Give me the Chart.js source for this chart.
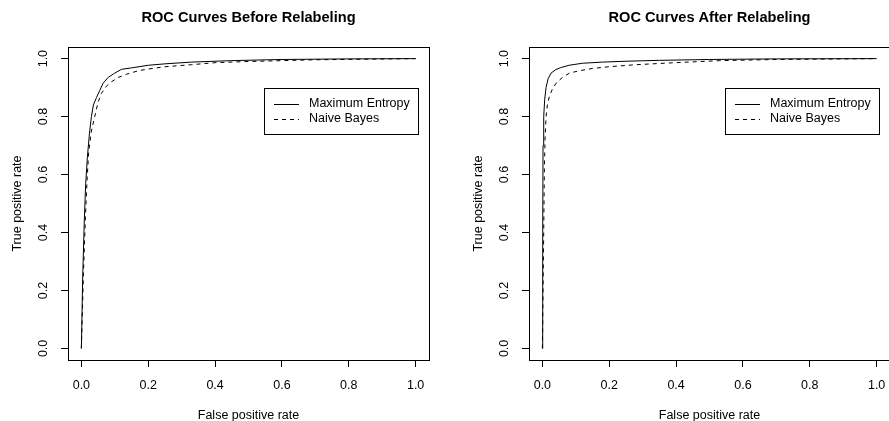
<!DOCTYPE html>
<html lang="en">
<head>
  <meta charset="UTF-8" />
  <title>ROC Curves</title>
  <style>
    body {
      margin: 0;
      width: 889px;
      height: 421px;
      overflow: hidden;
      background: #fff;
      position: relative;
    }
    .panel {
      position: absolute;
      top: 0;
      width: 444px;
      height: 421px;
    }
  </style>
</head>
<body>
  <div class="panel" style="left:0"><canvas id="before" width="444" height="421"></canvas></div>
  <div class="panel" style="left:461px"><canvas id="after" width="444" height="421"></canvas></div>

  <script src="https://cdn.jsdelivr.net/npm/chart.js"></script>
  <script>
    // tick positions on both axes
    const tickValues = [0, 0.2, 0.4, 0.6, 0.8, 1.0];
    const seriesNames = ['Maximum Entropy', 'Naive Bayes'];

    // before relabeling
    const beforeMeFpr = [0, 0.004, 0.009, 0.013, 0.018, 0.024, 0.030, 0.036, 0.045, 0.055, 0.065, 0.080, 0.10, 0.12, 0.15, 0.20, 0.25, 0.33, 0.45, 0.60, 0.80, 1.0];
    const beforeMeTpr = [0, 0.25, 0.45, 0.57, 0.66, 0.74, 0.80, 0.84, 0.865, 0.89, 0.915, 0.935, 0.95, 0.963, 0.968, 0.977, 0.982, 0.988, 0.993, 0.997, 0.999, 1.0];
    const beforeNbFpr = [0, 0.006, 0.012, 0.017, 0.022, 0.03, 0.04, 0.05, 0.06, 0.075, 0.09, 0.11, 0.135, 0.17, 0.20, 0.25, 0.33, 0.40, 0.50, 0.70, 1.0];
    const beforeNbTpr = [0, 0.25, 0.45, 0.58, 0.68, 0.75, 0.80, 0.85, 0.88, 0.905, 0.92, 0.935, 0.946, 0.958, 0.964, 0.972, 0.979, 0.986, 0.99, 0.996, 1.0];

    // after relabeling
    const afterMeFpr = [0, 0.001, 0.002, 0.004, 0.007, 0.011, 0.017, 0.026, 0.04, 0.055, 0.08, 0.12, 0.18, 0.25, 0.35, 0.5, 0.7, 1.0];
    const afterMeTpr = [0, 0.40, 0.70, 0.80, 0.86, 0.90, 0.93, 0.95, 0.962, 0.969, 0.977, 0.984, 0.988, 0.991, 0.994, 0.997, 0.999, 1.0];
    const afterNbFpr = [0, 0.004, 0.006, 0.008, 0.011, 0.015, 0.021, 0.03, 0.041, 0.06, 0.081, 0.11, 0.15, 0.2, 0.28, 0.38, 0.53, 0.7, 1.0];
    const afterNbTpr = [0, 0.40, 0.62, 0.72, 0.80, 0.84, 0.87, 0.895, 0.915, 0.935, 0.95, 0.958, 0.966, 0.972, 0.979, 0.985, 0.993, 0.997, 1.0];

    const FONT = '"Liberation Sans", Arial, sans-serif';
    const SIZE = 12.5;
    const DASH = [4, 4];

    function points(xs, ys) {
      return xs.map((x, i) => ({ x: x, y: ys[i] }));
    }

    // box around plot, rotated y tick labels and the boxed legend (R style)
    const rFrame = {
      id: 'rFrame',
      afterDraw(chart) {
        const { ctx, chartArea: a } = chart;
        const ys = chart.scales.y;
        ctx.save();
        ctx.strokeStyle = '#000';
        ctx.lineWidth = 1;
        ctx.strokeRect(Math.round(a.left) + 0.5, Math.round(a.top) + 0.5,
          Math.round(a.right - a.left), Math.round(a.bottom - a.top));

        ctx.fillStyle = '#000';
        ctx.font = SIZE + 'px ' + FONT;
        ctx.textAlign = 'center';
        ctx.textBaseline = 'middle';
        ys.ticks.forEach(t => {
          const y = ys.getPixelForValue(t.value);
          ctx.save();
          ctx.translate(a.left - 24, y);
          ctx.rotate(-Math.PI / 2);
          ctx.fillText(t.value.toFixed(1), 0, 0);
          ctx.restore();
        });

        // legend
        const w = 154, h = 46;
        const lx = Math.round(a.right - 11 - w), ly = Math.round(a.top + 41);
        ctx.strokeRect(lx + 0.5, ly + 0.5, w, h);
        ctx.textAlign = 'left';
        chart.data.datasets.forEach((ds, i) => {
          const y = ly + 16 + i * 15;
          ctx.beginPath();
          ctx.setLineDash(ds.borderDash || []);
          ctx.moveTo(lx + 10, y + 0.5);
          ctx.lineTo(lx + 35, y + 0.5);
          ctx.stroke();
          ctx.setLineDash([]);
          ctx.fillText(ds.label, lx + 45, y);
        });
        ctx.restore();
      }
    };

    function axis(titleText, isY) {
      return {
        type: 'linear',
        min: -0.04,
        max: 1.04,
        afterBuildTicks: s => { s.ticks = tickValues.map(v => ({ value: v })); },
        afterFit: s => { if (isY) s.width = 68; else s.height = 61; },
        grid: { display: true, drawOnChartArea: false, drawTicks: true, tickLength: 7, color: '#000', lineWidth: 1 },
        border: { display: false },
        ticks: {
          display: !isY,
          color: '#000',
          padding: 11,
          maxRotation: 0,
          font: { family: FONT, size: SIZE },
          callback: v => Number(v).toFixed(1)
        },
        title: {
          display: true,
          text: titleText,
          color: '#000',
          font: { family: FONT, size: SIZE, lineHeight: 1 },
          padding: isY ? { top: 11, bottom: 0 } : { top: 0, bottom: -1 }
        }
      };
    }

    function makeChart(id, titleText, meX, meY, nbX, nbY) {
      return new Chart(document.getElementById(id), {
        type: 'line',
        data: {
          datasets: [
            { label: seriesNames[0], data: points(meX, meY), borderColor: '#000', borderWidth: 1, pointRadius: 0, fill: false, tension: 0 },
            { label: seriesNames[1], data: points(nbX, nbY), borderColor: '#000', borderWidth: 1, borderDash: DASH, pointRadius: 0, fill: false, tension: 0 }
          ]
        },
        options: {
          responsive: false,
          animation: false,
          devicePixelRatio: 1,
          layout: { padding: { left: 0, right: 15, top: 0, bottom: 0 } },
          scales: {
            x: axis('False positive rate', false),
            y: axis('True positive rate', true)
          },
          plugins: {
            legend: { display: false },
            tooltip: { enabled: false },
            title: {
              display: true,
              text: titleText,
              fullSize: false,
              color: '#000',
              font: { family: FONT, size: 14.6, weight: 'bold', lineHeight: 1.2 },
              padding: { top: 9.3, bottom: 20.2 }
            }
          }
        },
        plugins: [rFrame]
      });
    }

    makeChart('before', 'ROC Curves Before Relabeling', beforeMeFpr, beforeMeTpr, beforeNbFpr, beforeNbTpr);
    makeChart('after', 'ROC Curves After Relabeling', afterMeFpr, afterMeTpr, afterNbFpr, afterNbTpr);
  </script>
</body>
</html>
